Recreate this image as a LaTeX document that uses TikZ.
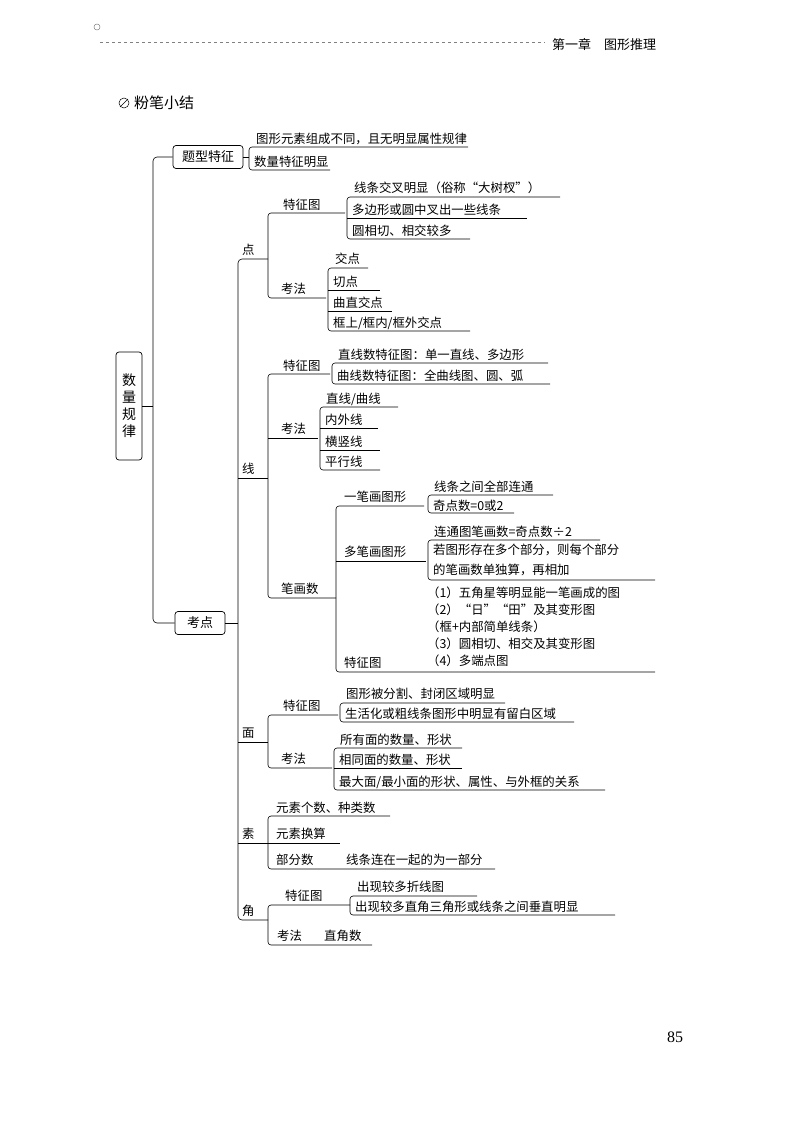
\documentclass[tikz,border=0pt]{standalone}
\usepackage{fontspec}
\setmainfont{Noto Sans CJK SC}
\newfontfamily\numfont{Liberation Serif}
\tikzset{
 t/.style={anchor=base west,inner sep=0pt,font=\fontsize{12.4}{17}\selectfont},
 ln/.style={line width=0.6pt},
 bx/.style={draw,line width=0.7pt,rounded corners=3pt,inner sep=0pt}
}
\newcommand\br[5]{\draw[ln,rounded corners=3pt] (#2,#3) -- (#1,#3) -- (#1,#5) -- (#4,#5);}
\newcommand\ul[3]{\draw[ln] (#1,#3) -- (#2,#3);}
\begin{document}
\begin{tikzpicture}[x=1pt,y=-1pt]
\useasboundingbox (0,0) rectangle (800,1129);
% header
\draw[dashed,line width=0.5pt,gray] (100,42) -- (545,42);
\draw[gray,line width=0.5pt] (97,27) circle (3);
\node[t,font=\fontsize{13}{16}\selectfont] (hdr) at (552,50) {第一章\hspace{1em}图形推理};
\draw[line width=0.5pt] (124,103) circle (5);
\draw[line width=0.5pt] (120,107) -- (128,99);
\node[t,font=\fontsize{15}{18}\selectfont] (title) at (134,109) {粉笔小结};
\node[t,font=\numfont\fontsize{16}{18}\selectfont] (pg) at (667,1042) {85};
% root
\node[bx,minimum width=26pt,minimum height=108pt,align=center,font=\fontsize{14}{17}\selectfont] (root) at (129,406) {数\\量\\规\\律};
\node[bx,minimum width=70pt,minimum height=23pt,font=\fontsize{13}{16}\selectfont] (tx) at (208,157) {题型特征};
\node[bx,minimum width=50pt,minimum height=23pt,font=\fontsize{13}{16}\selectfont] (kd) at (200,623) {考点};
\draw[ln] (root.east) -- (153,406);
\draw[ln,rounded corners=4pt] (tx.west) -- (153,157) -- (153,623) -- (kd.west);
% 题型特征
\draw[ln] (tx.east) -- (249,157);
\br{249}{468}{147}{330}{170}
\node[t] (a1) at (256,143) {图形元素组成不同，且无明显属性规律};
\node[t] (a2) at (254,166) {数量特征明显};
% 考点 spine
\draw[ln] (kd.east) -- (238,623);
\draw[ln,rounded corners=4pt] (268,259) -- (238,259) -- (238,920) -- (268,920);
\ul{238}{268}{478}\ul{238}{268}{742}\ul{238}{340}{843}
\node[t] (d) at (242,254) {点};
\node[t] (x) at (242,473) {线};
\node[t] (m) at (242,737) {面};
\node[t] (s) at (242,838) {素};
\node[t] (j) at (242,915) {角};
% 点
\br{268}{345}{213}{326}{298}
\node[t] (d1) at (283,209) {特征图};
\node[t] (d2) at (281,293) {考法};
\br{347}{560}{197}{470}{239}\ul{347}{527}{218}
\node[t] (d11) at (354,192) {线条交叉明显（俗称“大树杈”）};
\node[t] (d12) at (352,214) {多边形或圆中叉出一些线条};
\node[t] (d13) at (352,235) {圆相切、相交较多};
\br{328}{368}{268}{470}{331}\ul{328}{380}{290}\ul{328}{392}{311}
\node[t] (d21) at (335,263) {交点};
\node[t] (d22) at (333,286) {切点};
\node[t] (d23) at (333,307) {曲直交点};
\node[t] (d24) at (333,327) {框上/框内/框外交点};
% 线
\br{268}{330}{374}{336}{598}\ul{268}{318}{438}
\node[t] (x1) at (283,370) {特征图};
\node[t] (x2) at (281,433) {考法};
\node[t] (x3) at (281,593) {笔画数};
\br{332}{548}{363}{550}{384}
\node[t] (x11) at (338,359) {直线数特征图：单一直线、多边形};
\node[t] (x12) at (337,380) {曲线数特征图：全曲线图、圆、弧};
\br{320}{398}{407}{380}{470}\ul{320}{378}{428}\ul{320}{380}{450}
\node[t] (x21) at (326,403) {直线/曲线};
\node[t] (x22) at (325,424) {内外线};
\node[t] (x23) at (325,446) {横竖线};
\node[t] (x24) at (325,466) {平行线};
\br{336}{424}{506}{655}{672}\ul{336}{426}{561}
\node[t] (x31) at (344,501) {一笔画图形};
\node[t] (x32) at (344,556) {多笔画图形};
\node[t] (x33) at (344,667) {特征图};
\br{428}{553}{495}{514}{513}
\node[t] (x311) at (434,491) {线条之间全部连通};
\node[t] (x312) at (433,510) {奇点数=0或2};
\br{428}{600}{540}{655}{580}
\node[t] (x321) at (434,536) {连通图笔画数=奇点数÷2};
\node[t,align=left,anchor=north west,font=\fontsize{12.4}{20}\selectfont] (x322) at (433,544) {若图形存在多个部分，则每个部分\\的笔画数单独算，再相加};
\node[t,align=left,anchor=north west,font=\fontsize{12.4}{17}\selectfont] (x331) at (427,587) {（1）五角星等明显能一笔画成的图\\（2）“日”“田”及其变形图\\（框+内部简单线条）\\（3）圆相切、相交及其变形图\\（4）多端点图};
% 面
\br{268}{338}{715}{332}{768}
\node[t] (m1) at (283,710) {特征图};
\node[t] (m2) at (281,763) {考法};
\br{340}{505}{703}{574}{722}
\node[t] (m11) at (346,698) {图形被分割、封闭区域明显};
\node[t] (m12) at (345,718) {生活化或粗线条图形中明显有留白区域};
\br{334}{462}{748}{605}{790}\ul{334}{462}{768}
\node[t] (m21) at (340,744) {所有面的数量、形状};
\node[t] (m22) at (339,764) {相同面的数量、形状};
\node[t] (m23) at (339,786) {最大面/最小面的形状、属性、与外框的关系};
% 素
\br{268}{390}{816}{495}{869}
\node[t] (s1) at (276,812) {元素个数、种类数};
\node[t] (s2) at (276,838) {元素换算};
\node[t] (s3) at (276,864) {部分数};
\node[t] (s31) at (346,864) {线条连在一起的为一部分};
% 角
\br{268}{350}{905}{372}{945}
\node[t] (j1) at (285,900) {特征图};
\node[t] (j2) at (277,940) {考法};
\node[t] (j21) at (324,940) {直角数};
\br{350}{477}{896}{615}{915}
\node[t] (j11) at (357,891) {出现较多折线图};
\node[t] (j12) at (355,911) {出现较多直角三角形或线条之间垂直明显};
\end{tikzpicture}
\end{document}
